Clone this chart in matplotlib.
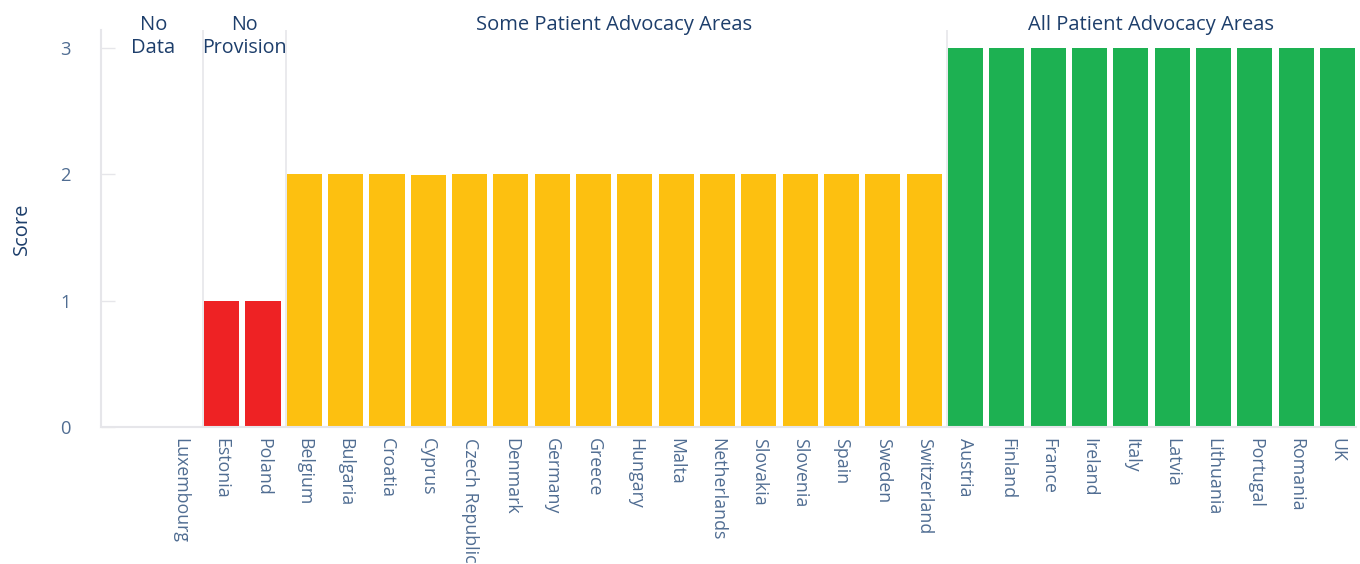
import matplotlib
matplotlib.use("Agg")
import matplotlib.pyplot as plt

countries = ["Luxembourg", "Estonia", "Poland", "Belgium", "Bulgaria", "Croatia", "Cyprus",
             "Czech Republic", "Denmark", "Germany", "Greece", "Hungary", "Malta", "Netherlands",
             "Slovakia", "Slovenia", "Spain", "Sweden", "Switzerland", "Austria", "Finland",
             "France", "Ireland", "Italy", "Latvia", "Lithuania", "Portugal", "Romania", "UK"]
scores = [0, 1, 1, 2, 2, 2, 1.99, 2, 2, 2, 2, 2, 2, 2, 2, 2, 2, 2, 2,
          3, 3, 3, 3, 3, 3, 3, 3, 3, 3]
groups = ["No\nData", "No\nProvision", "Some Patient Advocacy Areas", "All Patient Advocacy Areas"]
group_sizes = [1, 2, 16, 10]
group_colors = ["#cccccc", "#ee2224", "#fdc010", "#1db152"]

plt.rcParams['font.family'] = ['Open Sans', 'DejaVu Sans']
navy = "#1d3e6b"
tick_col = "#506d92"
line_col = "#e6e6ea"

fig = plt.figure(figsize=(13.6, 5.64), dpi=100)
ax = fig.add_axes([101/1360, 1 - 427/564, (1356 - 101)/1360, (427 - 30)/564])

colors = []
for c, n in zip(group_colors, group_sizes):
    colors += [c] * n
x = list(range(len(countries)))
ax.bar(x, scores, width=0.85, color=colors, zorder=2)

ax.set_xlim(-1.92, 28.45)
ax.set_ylim(0, 3.14)
ax.set_yticks([0, 1, 2, 3])
ax.set_yticklabels(["0", "1", "2", "3"], color=tick_col, fontsize=13.2)
ax.tick_params(axis='y', direction='in', length=10, color=line_col, pad=22, width=1)
ax.set_xticks(x)
ax.set_xticklabels(countries, rotation=270, color=tick_col, fontsize=12.8, va='top', ha='center')
ax.tick_params(axis='x', length=0, pad=8)
for s in ["top", "right"]:
    ax.spines[s].set_visible(False)
for s in ["left", "bottom"]:
    ax.spines[s].set_color(line_col)
    ax.spines[s].set_linewidth(1.5)
ax.set_ylabel("Score", color=navy, fontsize=14.5, labelpad=20)

# group separators and labels
start = 0
for g, n in zip(groups, group_sizes):
    if start > 0:
        ax.axvline(start - 0.44, color=line_col, lw=1.2, zorder=1, ymin=0, ymax=1)
    center = start + (n - 1) / 2
    if n == 1:
        ax.text(-0.65, 3.085, g, ha='center', va='center', color=navy, fontsize=14.5,
                linespacing=1.2)
    elif g.startswith("No"):
        ax.text(center + 0.05, 3.085, g, ha='center', va='center', color=navy, fontsize=14.2,
                linespacing=1.2)
    else:
        ax.text(center, 3.18, g, ha='center', va='center', color=navy, fontsize=14.5)
    start += n

fig.savefig("out.png", dpi=100)
